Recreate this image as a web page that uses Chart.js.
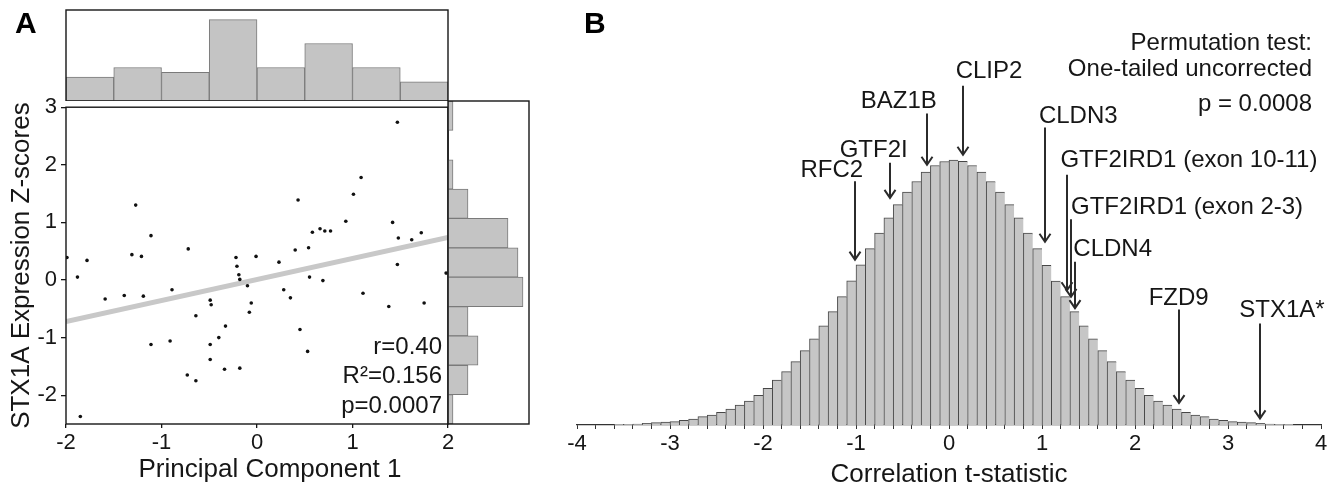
<!DOCTYPE html>
<html><head><meta charset="utf-8">
<script src="https://cdn.jsdelivr.net/npm/chart.js@4.4.1/dist/chart.umd.min.js"></script>
<style>
html,body{margin:0;padding:0;background:#fff;}
#wrap{position:relative;width:1338px;height:488px;overflow:hidden;background:#fff;}
canvas{position:absolute;}
</style></head><body>
<div id="wrap">
<canvas id="topHist" width="460" height="101" style="left:0;top:0;width:460px;height:101px"></canvas>
<canvas id="scatter" width="460" height="398" style="left:0;top:90px;width:460px;height:398px"></canvas>
<canvas id="rightHist" width="100" height="340" style="left:440px;top:90px;width:100px;height:340px"></canvas>
<canvas id="tHist" width="798" height="488" style="left:540px;top:0;width:798px;height:488px"></canvas>
</div>
<script>
const FONT = "'Liberation Sans', Arial, Helvetica, sans-serif";
const INK = '#161616';

// ---------- Panel A data ----------
const pcBins = ['-2 to -1.5','-1.5 to -1','-1 to -0.5','-0.5 to 0','0 to 0.5','0.5 to 1','1 to 1.5','1.5 to 2'];
const pcCounts = [5, 7, 6, 17, 7, 12, 7, 4];

const zBins = ['2.5 to 3','2 to 2.5','1.5 to 2','1 to 1.5','0.5 to 1','0 to 0.5','-0.5 to 0','-1 to -0.5','-1.5 to -1','-2 to -1.5','-2.5 to -2'];
const zCounts = [1, 0, 1, 4, 12, 14, 15, 4, 6, 4, 1];

const pc1 = [-1.99,-1.88,-1.78,-1.27,-1.31,-1.21,-1.11,-0.72,-0.89,-0.22,-0.21,-0.19,-0.18,-0.10,-0.01,0.23,
  1.47,1.09,1.01,0.43,0.93,1.42,0.58,0.66,0.71,0.77,1.48,1.62,1.72,0.40,0.54,1.47,0.55,0.69,1.98,0.28,
  0.35,1.11,1.38,1.75,0.45,0.53,
  -1.59,-1.39,-1.19,-0.49,-0.48,-0.64,-0.06,-0.08,-0.33,-0.40,-1.11,-0.91,-0.49,-0.49,-0.34,-0.18,-0.73,-0.64,-1.85];
const stx1a = [0.39,0.05,0.34,1.30,0.44,0.41,0.77,0.54,-0.17,0.39,0.24,0.09,0.01,-0.10,0.41,0.31,
  2.74,1.78,1.49,1.39,1.02,1.00,0.83,0.89,0.85,0.85,0.73,0.70,0.82,0.52,0.56,0.27,0.05,-0.01,0.12,-0.17,
  -0.31,-0.23,-0.46,-0.40,-0.86,-1.24,
  -0.33,-0.27,-0.28,-0.35,-0.43,-0.62,-0.40,-0.56,-0.80,-1.00,-1.12,-1.06,-1.12,-1.38,-1.55,-1.53,-1.65,-1.75,-2.37];

const fitX = [-2, 2];
const fitY = [-0.72, 0.74];
const statsText = ['r=0.40', 'R\u00B2=0.156', 'p=0.0007'];

// ---------- Panel B data ----------
const tBinCenters = [-3.55,-3.45,-3.35,-3.25,-3.15,-3.05,-2.95,-2.85,-2.75,-2.65,-2.55,-2.45,-2.35,-2.25,-2.15,-2.05,
  -1.95,-1.85,-1.75,-1.65,-1.55,-1.45,-1.35,-1.25,-1.15,-1.05,-0.95,-0.85,-0.75,-0.65,-0.55,-0.45,-0.35,-0.25,-0.15,-0.05,
  0.05,0.15,0.25,0.35,0.45,0.55,0.65,0.75,0.85,0.95,1.05,1.15,1.25,1.35,1.45,1.55,1.65,1.75,1.85,1.95,
  2.05,2.15,2.25,2.35,2.45,2.55,2.65,2.75,2.85,2.95,3.05,3.15,3.25,3.35,3.45,3.55,3.65];
const tFreq = [0.01,0.01,0.015,0.026,0.035,0.045,0.05,0.071,0.09,0.125,0.151,0.191,0.241,0.301,0.362,0.448,
  0.553,0.678,0.803,0.954,1.12,1.296,1.492,1.708,1.934,2.17,2.411,2.657,2.889,3.12,3.32,3.507,3.667,3.809,3.908,3.968,
  3.989,3.97,3.908,3.809,3.667,3.507,3.32,3.12,2.889,2.657,2.406,2.166,1.934,1.708,1.492,1.296,1.12,0.954,0.803,0.678,
  0.553,0.448,0.362,0.301,0.241,0.191,0.151,0.125,0.09,0.071,0.05,0.045,0.035,0.026,0.015,0.01,0.01];
const xTickValues = [-4,-3,-2,-1,0,1,2,3,4];

const geneLabels = ['RFC2','GTF2I','BAZ1B','CLIP2','CLDN3','GTF2IRD1 (exon 10-11)','GTF2IRD1 (exon 2-3)','CLDN4','FZD9','STX1A*'];
const geneT = [-1.01,-0.63,-0.24,0.15,1.03,1.27,1.31,1.35,2.47,3.34];
const arrowTip = [2.49,3.42,3.92,4.07,2.76,2.03,1.93,1.76,0.33,0.10];
const permText = ['Permutation test:', 'One-tailed uncorrected', 'p = 0.0008'];

// ---------- layout (positions, not data) ----------
const arrowTop = [3.67,3.95,4.69,5.11,4.48,3.77,3.10,2.46,1.74,1.53];
const labelX = [-1.26,-0.81,-0.54,0.43,1.39,2.58,2.56,1.76,2.47,3.58];
const labelY = [3.84,4.14,4.87,5.32,4.65,3.99,3.27,2.65,1.91,1.73];

function framePlugin(id, lw) {
  return { id, afterDatasetsDraw(chart) {
    const {ctx, chartArea: a} = chart;
    ctx.save(); ctx.strokeStyle = INK; ctx.lineWidth = lw;
    ctx.strokeRect(a.left, a.top, a.right - a.left, a.bottom - a.top);
    ctx.restore();
  }};
}

const baseOpts = { responsive:false, animation:false, devicePixelRatio:1,
  plugins:{ legend:{display:false}, tooltip:{enabled:false} } };

// Top marginal histogram
new Chart(document.getElementById('topHist'), {
  type:'bar',
  data:{ labels: pcBins, datasets:[{ data: pcCounts, backgroundColor:'#c4c4c4', borderColor:'#7a7a7a',
    borderWidth:1, borderSkipped:false, barPercentage:1, categoryPercentage:1 }]},
  options:{ ...baseOpts, layout:{padding:{left:66,right:12,top:10,bottom:0}},
    scales:{ x:{display:false}, y:{display:false, min:0, max:19} } },
  plugins:[ framePlugin('f1', 1.4), { id:'lblA', afterDraw(chart){
    const ctx = chart.ctx; ctx.save(); ctx.fillStyle = '#000';
    ctx.font = 'bold 30px ' + FONT; ctx.textAlign = 'left'; ctx.textBaseline = 'alphabetic';
    ctx.fillText('A', 15, 33); ctx.restore(); } } ]
});

// Scatter
new Chart(document.getElementById('scatter'), {
  type:'scatter',
  data:{ datasets:[
    { data: fitX.map((x,i)=>({x, y:fitY[i]})), showLine:true, borderColor:'#c8c8c8', borderWidth:5,
      pointRadius:0, order:2 },
    { data: pc1.map((x,i)=>({x, y:stx1a[i]})), backgroundColor:'#111', borderColor:'#111',
      pointRadius:1.8, borderWidth:0, order:1 } ]},
  options:{ ...baseOpts, layout:{padding:{left:0,right:12,top:11,bottom:0}},
    scales:{
      x:{ type:'linear', min:-2, max:2,
        ticks:{ stepSize:1, includeBounds:false, maxRotation:0, padding:2, color:INK, font:{family:FONT,size:22} },
        grid:{ drawOnChartArea:false, tickLength:4, color:INK, lineWidth:1.3 },
        border:{ display:false },
        afterFit(s){ s.height = 64; } },
      y:{ type:'linear', min:-2.5, max:3,
        ticks:{ stepSize:1, includeBounds:false, padding:4, color:INK, font:{family:FONT,size:22} },
        grid:{ drawOnChartArea:false, tickLength:5, color:INK, lineWidth:1.3 },
        border:{ display:false },
        title:{ display:true, text:'STX1A Expression Z-scores', color:INK,
          font:{family:FONT,size:26,lineHeight:1}, padding:{top:9,bottom:0} },
        afterFit(s){ s.width = 66; } } } },
  plugins:[ framePlugin('f2', 1.4), { id:'statsA', afterDraw(chart){
    const {ctx, chartArea:a} = chart; ctx.save(); ctx.fillStyle = INK;
    ctx.font = '24px ' + FONT; ctx.textAlign = 'right'; ctx.textBaseline = 'middle';
    const dy = [-77, -48, -18];
    statsText.forEach((t,i)=>ctx.fillText(t, a.right - 6, a.bottom + dy[i]));
    ctx.font = '26px ' + FONT; ctx.textAlign = 'center';
    ctx.fillText('Principal Component 1', 270, 380);
    ctx.restore(); } } ]
});

// Right marginal histogram
new Chart(document.getElementById('rightHist'), {
  type:'bar',
  data:{ labels: zBins, datasets:[{ data: zCounts, backgroundColor:'#c4c4c4', borderColor:'#7a7a7a',
    borderWidth:1, borderSkipped:false, barPercentage:1, categoryPercentage:1 }]},
  options:{ ...baseOpts, indexAxis:'y', layout:{padding:{left:8,right:11,top:11,bottom:6}},
    scales:{ x:{display:false, min:0, max:16.2}, y:{display:false} } },
  plugins:[ framePlugin('f3', 1.4) ]
});

// Panel B histogram
new Chart(document.getElementById('tHist'), {
  type:'bar',
  data:{ datasets:[{ data: tBinCenters.map((x,i)=>({x, y:tFreq[i]})), backgroundColor:'#c6c6c6',
    borderColor:'#474747', borderWidth:{top:1,left:1,right:0,bottom:0}, borderSkipped:false,
    barPercentage:1, categoryPercentage:1 }]},
  options:{ ...baseOpts, layout:{padding:{left:37,right:17,top:10,bottom:0}},
    scales:{
      x:{ type:'linear', min:-4, max:4, offset:false,
        ticks:{ stepSize:0.2, autoSkip:false, maxRotation:0, padding:2, color:INK, font:{family:FONT,size:22},
          callback(v){ const r = Math.round(v); return (Math.abs(v-r)<1e-6 && xTickValues.includes(r)) ? String(r) : ''; } },
        grid:{ drawOnChartArea:false, offset:false, tickLength:4, color:'#333', lineWidth:1 },
        border:{ display:true, color:'#333', width:1.2 },
        title:{ display:true, text:'Correlation t-statistic', color:INK,
          font:{family:FONT,size:26,lineHeight:1}, padding:{top:0,bottom:0} },
        afterFit(s){ s.height = 63; } },
      y:{ display:false, min:0, max:6.25 } } },
  plugins:[ { id:'annB', afterDraw(chart){
    const {ctx} = chart; const xs = chart.scales.x, ys = chart.scales.y;
    ctx.save();
    ctx.fillStyle = '#000'; ctx.font = 'bold 30px ' + FONT; ctx.textAlign='left'; ctx.textBaseline='alphabetic';
    ctx.fillText('B', 44, 33);
    ctx.strokeStyle = '#2b2b2b'; ctx.lineWidth = 2; ctx.lineCap = 'butt';
    geneLabels.forEach((g,i)=>{
      const x = Math.round(xs.getPixelForValue(geneT[i])) + 0.0;
      const y0 = ys.getPixelForValue(arrowTop[i]);
      const y1 = ys.getPixelForValue(arrowTip[i]);
      ctx.beginPath(); ctx.moveTo(x, y0); ctx.lineTo(x, y1); ctx.stroke();
      ctx.beginPath(); ctx.moveTo(x-5.5, y1-8); ctx.lineTo(x, y1); ctx.lineTo(x+5.5, y1-8); ctx.stroke();
      ctx.fillStyle = INK; ctx.font = '24px ' + FONT; ctx.textAlign='center'; ctx.textBaseline='middle';
      ctx.fillText(g, xs.getPixelForValue(labelX[i]), ys.getPixelForValue(labelY[i]));
    });
    ctx.textAlign='right'; ctx.textBaseline='middle'; ctx.fillStyle = INK; ctx.font = '24px ' + FONT;
    const py = [43, 69, 104];
    permText.forEach((t,i)=>ctx.fillText(t, chart.chartArea.right - 9, py[i]));
    ctx.restore(); } } ]
});
</script>
</body></html>
